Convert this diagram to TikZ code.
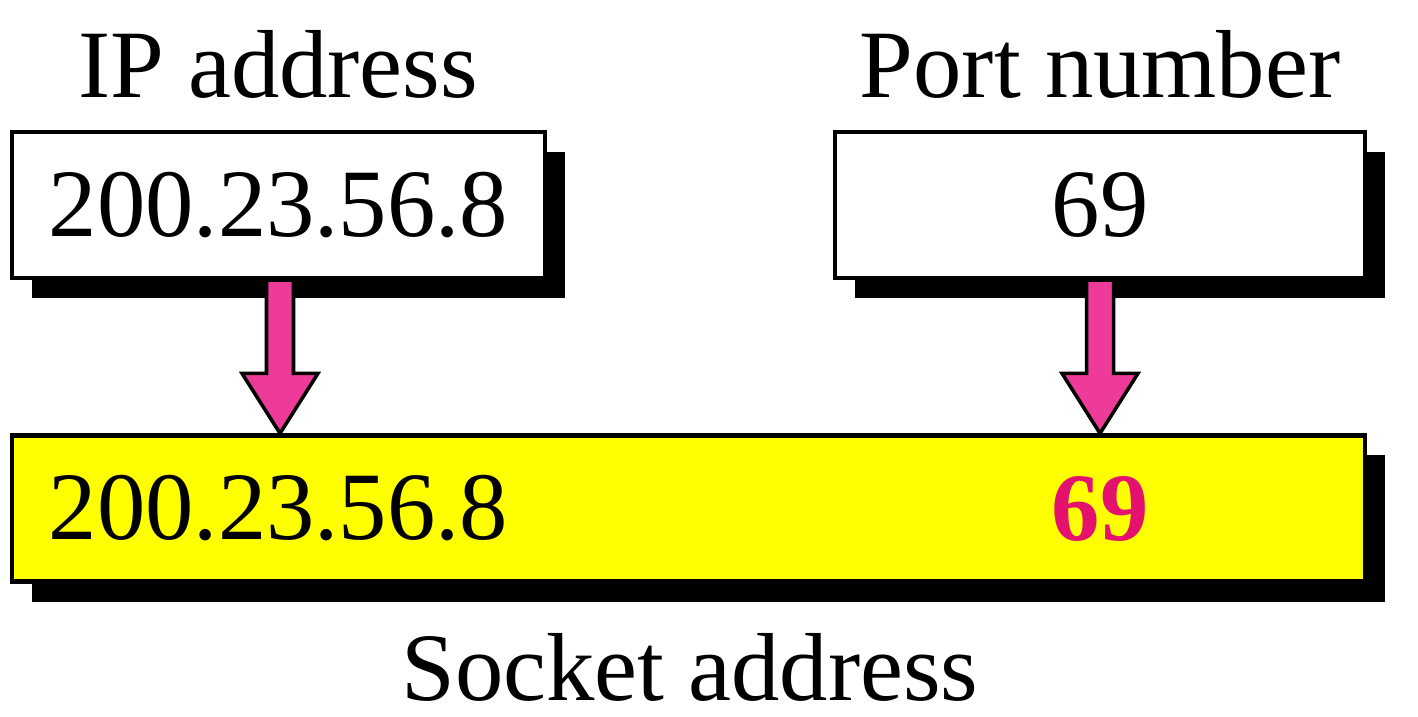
\documentclass[tikz,border=0pt]{standalone}
\usepackage{fontspec}
\setmainfont{Liberation Serif}
\usetikzlibrary{shadows,calc}

\definecolor{arrowpink}{RGB}{238,58,152}
\definecolor{portred}{RGB}{228,18,110}
\definecolor{sockyellow}{RGB}{255,255,0}

\tikzset{
  every node/.style={font=\fontsize{27.5}{33}\selectfont},
  valbox/.style={draw,line width=1.2pt,fill=white,minimum height=1.46cm,
    drop shadow={shadow xshift=0.2cm,shadow yshift=-0.2cm,fill=black,opacity=1}},
  pinkarrow/.style={draw,line width=1pt,fill=arrowpink,line join=miter},
}

\begin{document}
\begin{tikzpicture}
            \useasboundingbox (0,0) rectangle (14.18,7.16);

            \node[valbox,minimum width=5.33cm] (ip) at (2.785,5.11) {200.23.56.8};
            \node[valbox,minimum width=5.30cm] (port) at (11.0,5.11) {69};
            \node[valbox,minimum width=13.53cm,fill=sockyellow] (sock) at (6.885,2.075) {};

            \node[anchor=base] (iplbl) at (2.78,6.18) {IP address};
            \node[anchor=base] (portlbl) at (11.0,6.18) {Port number};
            \node[anchor=base] (socklbl) at (6.9,0.16) {Socket address};

            \node (sockip) at (ip |- sock) {200.23.56.8};
            \node[text=portred] (sockport) at (port |- sock) {\bfseries 69};

            % fat arrows from the two boxes down to the socket box
            \foreach \b/\dx in {ip/0.015,port/0} {
                \draw[pinkarrow] ($(\b.south)+(\dx-0.135,0)$) -- ($(\b.south |- sock.north)+(\dx-0.135,0.6)$)
                    -- ($(\b.south |- sock.north)+(\dx-0.38,0.6)$) -- ($(\b.south |- sock.north)+(\dx,0)$)
                    -- ($(\b.south |- sock.north)+(\dx+0.38,0.6)$) -- ($(\b.south |- sock.north)+(\dx+0.135,0.6)$)
                    -- ($(\b.south)+(\dx+0.135,0)$) -- cycle;
            }
        \end{tikzpicture}
\end{document}
